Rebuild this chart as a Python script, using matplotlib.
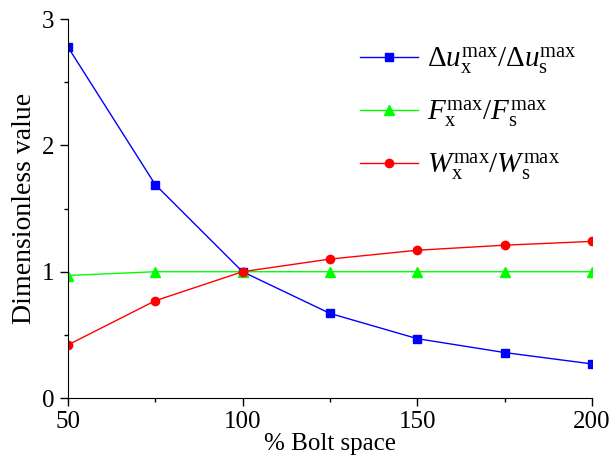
import matplotlib
matplotlib.use("Agg")
import matplotlib.pyplot as plt
from matplotlib.ticker import MultipleLocator

plt.rcParams["font.family"] = "Liberation Serif"
plt.rcParams["mathtext.fontset"] = "custom"
plt.rcParams["mathtext.rm"] = "Liberation Serif"
plt.rcParams["mathtext.it"] = "Liberation Serif:italic"

bolt_space = [50, 75, 100, 125, 150, 175, 200]
disp_ratio = [2.78, 1.69, 1.0, 0.67, 0.47, 0.36, 0.27]
force_ratio = [0.97, 1.0, 1.0, 1.0, 1.0, 1.0, 1.0]
work_ratio = [0.42, 0.77, 1.0, 1.10, 1.17, 1.21, 1.24]

fig = plt.figure(figsize=(6.11, 4.65), dpi=100)
ax = fig.add_axes([0.111, 0.144, 0.858, 0.815])

ax.plot(bolt_space, disp_ratio, color="#0000ff", lw=1, marker="s", ms=6,
        label=r"$\Delta u_{\mathrm{x}}^{\mathrm{max}}/\Delta u_{\mathrm{s}}^{\mathrm{max}}$")
ax.plot(bolt_space, force_ratio, color="#00ff00", lw=1, marker="^", ms=7,
        label=r"$F_{\mathrm{x}}^{\mathrm{max}}/F_{\mathrm{s}}^{\mathrm{max}}$")
ax.plot(bolt_space, work_ratio, color="#ff0000", lw=1, marker="o", ms=6,
        label=r"$W_{\mathrm{x}}^{\mathrm{max}}/W_{\mathrm{s}}^{\mathrm{max}}$")

ax.set_xlim(50, 200)
ax.set_ylim(0, 3)
ax.xaxis.set_major_locator(MultipleLocator(50))
ax.xaxis.set_minor_locator(MultipleLocator(25))
ax.yaxis.set_major_locator(MultipleLocator(1))
ax.yaxis.set_minor_locator(MultipleLocator(0.5))
ax.tick_params(which="both", direction="out", labelsize=18, width=1)
ax.tick_params(which="major", length=6)
ax.tick_params(which="minor", length=3)
ax.spines["top"].set_visible(False)
ax.spines["right"].set_visible(False)

ax.set_xlabel("% Bolt space", fontsize=18, labelpad=0)
ax.set_ylabel("Dimensionless value", fontsize=20, labelpad=4)

ax.legend(loc="upper right", bbox_to_anchor=(1.02, 1.0), frameon=False,
          fontsize=21, handlelength=2.0, handletextpad=0.3, labelspacing=0.75)

fig.savefig("out.png", dpi=100)
